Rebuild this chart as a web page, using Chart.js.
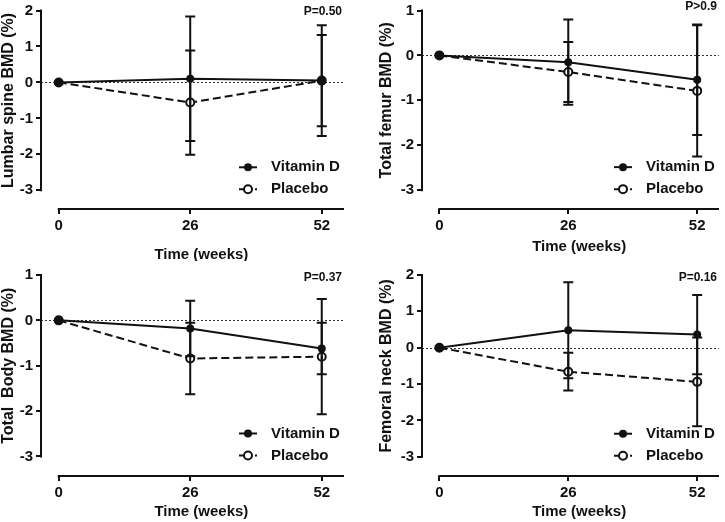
<!DOCTYPE html>
<html>
<head>
<meta charset="utf-8">
<script src="https://cdn.jsdelivr.net/npm/chart.js@4.4.1/dist/chart.umd.min.js"></script>
<style>
  html, body { margin: 0; padding: 0; background: #fff; }
  #wrap { position: relative; width: 725px; height: 522px; }
  canvas { position: absolute; }
</style>
</head>
<body>
<div id="wrap">
  <canvas id="c1" width="362" height="261" style="left:0;top:0"></canvas>
  <canvas id="c2" width="363" height="261" style="left:362px;top:0"></canvas>
  <canvas id="c3" width="362" height="261" style="left:0;top:261px"></canvas>
  <canvas id="c4" width="363" height="261" style="left:362px;top:261px"></canvas>
</div>
<script>
// data (mean % change and SD)
const weeks = [0, 26, 52];
const seriesNames = ['Vitamin D', 'Placebo'];

const lumbarVitD = [0, 0.10, 0.05];
const lumbarVitDSd = [0, 1.73, 1.54];
const lumbarPlac = [0, -0.56, 0.05];
const lumbarPlacSd = [0, 1.45, 1.27];

const femurVitD = [0, -0.15, -0.54];
const femurVitDSd = [0, 0.95, 1.23];
const femurPlac = [0, -0.37, -0.79];
const femurPlacSd = [0, 0.67, 1.46];

const bodyVitD = [0, -0.18, -0.62];
const bodyVitDSd = [0, 0.61, 0.57];
const bodyPlac = [0, -0.84, -0.80];
const bodyPlacSd = [0, 0.79, 1.27];

const neckVitD = [0, 0.48, 0.36];
const neckVitDSd = [0, 1.32, 1.09];
const neckPlac = [0, -0.66, -0.94];
const neckPlacSd = [0, 0.52, 1.22];

const ticksTall = [-3, -2, -1, 0, 1, 2];
const ticksShort = [-3, -2, -1, 0, 1];

const FONT = '"Liberation Sans", Arial, sans-serif';
const INK = '#111';

// prism style: offset axes, dotted zero line, error bars, legend, P value
const prismPlugin = {
  id: 'prism',
  beforeDatasetsDraw(chart) {
    const { ctx, chartArea: a, scales: { y } } = chart;
    const y0 = Math.round(y.getPixelForValue(0)) + 0.5;
    ctx.save();
    ctx.strokeStyle = '#333';
    ctx.lineWidth = 1;
    ctx.setLineDash([2, 2]);
    ctx.beginPath();
    ctx.moveTo(a.left, y0);
    ctx.lineTo(a.right, y0);
    ctx.stroke();
    ctx.restore();
  },
  afterDatasetsDraw(chart) {
    const { ctx, scales: { x, y } } = chart;
    ctx.save();
    ctx.strokeStyle = INK;
    ctx.lineWidth = 2;
    for (let i = chart.data.datasets.length - 1; i >= 0; i--) {
      const ds = chart.data.datasets[i];
      ds.data.forEach((p, j) => {
        const sd = ds.errorBars[j];
        if (!sd) return;
        const px = x.getPixelForValue(p.x);
        const hi = y.getPixelForValue(p.y + sd);
        const lo = y.getPixelForValue(p.y - sd);
        ctx.beginPath();
        ctx.moveTo(px, hi); ctx.lineTo(px, lo);
        ctx.moveTo(px - 5, hi); ctx.lineTo(px + 5, hi);
        ctx.moveTo(px - 5, lo); ctx.lineTo(px + 5, lo);
        ctx.stroke();
      });
    }
    ctx.restore();
  },
  afterDraw(chart, args, opts) {
    const { ctx, chartArea: a, scales: { x, y } } = chart;
    const yTicks = opts.yTicks;
    const yTop = y.getPixelForValue(yTicks[yTicks.length - 1]);
    const yBot = y.getPixelForValue(yTicks[0]);
    const x0 = x.getPixelForValue(weeks[0]);
    ctx.save();
    ctx.strokeStyle = INK;
    ctx.lineWidth = 2;
    ctx.beginPath();
    ctx.moveTo(a.left, yTop - 1); ctx.lineTo(a.left, yBot + 1);
    ctx.moveTo(x0 - 1, a.bottom); ctx.lineTo(a.right, a.bottom);
    ctx.stroke();

    ctx.fillStyle = INK;
    // axis titles
    ctx.font = 'bold 15px ' + FONT;
    ctx.textAlign = 'center';
    ctx.textBaseline = 'middle';
    ctx.fillText(opts.xTitle, (x0 + a.right) / 2, a.bottom + opts.xTitleDy);
    ctx.save();
    ctx.translate(a.left + opts.yTitleDx, (yTop + yBot) / 2);
    ctx.rotate(-Math.PI / 2);
    ctx.font = 'bold 16px ' + FONT;
    ctx.fillText(opts.yTitle, 0, 0);
    ctx.restore();

    // P value
    ctx.font = 'bold 12px ' + FONT;
    ctx.textAlign = 'right';
    ctx.fillText(opts.pText, a.right - 2, a.top + opts.pDy);

    // legend
    const rows = [yBot - 23, yBot - 1];
    chart.data.datasets.forEach((ds, i) => {
      const ly = rows[i];
      ctx.lineWidth = 2;
      ctx.setLineDash(ds.borderDash ? [5, 3] : []);
      ctx.beginPath();
      ctx.moveTo(a.right - 105, ly); ctx.lineTo(a.right - 87, ly);
      ctx.stroke();
      ctx.setLineDash([]);
      ctx.beginPath();
      ctx.arc(a.right - 96, ly, ds.pointRadius, 0, Math.PI * 2);
      ctx.fillStyle = ds.pointBackgroundColor;
      ctx.fill();
      if (ds.pointBorderWidth) {
        ctx.lineWidth = ds.pointBorderWidth;
        ctx.stroke();
      }
      ctx.fillStyle = INK;
      ctx.font = 'bold 15px ' + FONT;
      ctx.textAlign = 'left';
      ctx.fillText(ds.label, a.right - 73, ly);
    });
    ctx.restore();
  }
};

function toPoints(vals) {
  return weeks.map((w, i) => ({ x: w, y: vals[i] }));
}

function makeChart(id, p) {
  const cv = document.getElementById(id);
  const W = cv.width, H = cv.height;
  new Chart(cv, {
    type: 'line',
    data: {
      datasets: [{
        label: seriesNames[0],
        data: toPoints(p.vit),
        errorBars: p.vitSd,
        borderColor: INK,
        borderWidth: 2,
        pointRadius: 4,
        pointBackgroundColor: INK,
        pointBorderWidth: 0,
        tension: 0
      }, {
        label: seriesNames[1],
        data: toPoints(p.plac),
        errorBars: p.placSd,
        borderColor: INK,
        borderWidth: 2,
        borderDash: [8, 4],
        pointRadius: 4,
        pointBackgroundColor: '#fff',
        pointBorderColor: INK,
        pointBorderWidth: 2,
        tension: 0
      }]
    },
    options: {
      responsive: false,
      animation: false,
      events: [],
      layout: { padding: { left: 0, top: p.top, right: W - p.right, bottom: 0 } },
      plugins: {
        legend: { display: false },
        tooltip: { enabled: false },
        prism: {
          yTicks: p.yTicks,
          yTitle: p.yTitle,
          xTitle: 'Time (weeks)',
          pText: p.pText,
          pDy: p.pDy,
          yTitleDx: p.yTitleDx,
          xTitleDy: p.xTitleDy
        }
      },
      scales: {
        x: {
          type: 'linear',
          min: -3.5,
          max: 56.4,
          afterBuildTicks: s => { s.ticks = weeks.map(v => ({ value: v })); },
          afterFit: s => { s.height = H - p.bottom; },
          grid: { drawOnChartArea: false, drawTicks: true, tickLength: 5, lineWidth: 2, color: INK },
          border: { display: false },
          ticks: { color: INK, padding: 4, font: { family: FONT, size: 15, weight: 'bold', lineHeight: 1 } }
        },
        y: {
          min: p.yMin,
          max: p.yTicks[p.yTicks.length - 1],
          afterBuildTicks: s => { s.ticks = p.yTicks.map(v => ({ value: v })); },
          afterFit: s => { s.width = p.left; },
          grid: { drawOnChartArea: false, drawTicks: true, tickLength: 5, lineWidth: 2, color: INK },
          border: { display: false },
          ticks: { color: INK, padding: 3, font: { family: FONT, size: 15, weight: 'bold', lineHeight: 1 } }
        }
      }
    },
    plugins: [prismPlugin]
  });
}

makeChart('c1', {
  vit: lumbarVitD, vitSd: lumbarVitDSd, plac: lumbarPlac, placSd: lumbarPlacSd,
  yTicks: ticksTall, yMin: -3.52, yTitle: 'Lumbar spine BMD (%)', pText: 'P=0.50',
  left: 41, top: 8, right: 344, bottom: 209, yTitleDx: -32, xTitleDy: 46, pDy: 1
});
makeChart('c2', {
  vit: femurVitD, vitSd: femurVitDSd, plac: femurPlac, placSd: femurPlacSd,
  yTicks: ticksShort, yMin: -3.42, yTitle: 'Total femur BMD (%)', pText: 'P>0.9',
  left: 60, top: 8, right: 363, bottom: 209, yTitleDx: -35, xTitleDy: 38, pDy: -4
});
makeChart('c3', {
  vit: bodyVitD, vitSd: bodyVitDSd, plac: bodyPlac, placSd: bodyPlacSd,
  yTicks: ticksShort, yMin: -3.43, yTitle: 'Total  Body BMD (%)', pText: 'P=0.37',
  left: 41, top: 14, right: 344, bottom: 215, yTitleDx: -32, xTitleDy: 36, pDy: 3
});
makeChart('c4', {
  vit: neckVitD, vitSd: neckVitDSd, plac: neckPlac, placSd: neckPlacSd,
  yTicks: ticksTall, yMin: -3.53, yTitle: 'Femoral neck BMD (%)', pText: 'P=0.16',
  left: 60, top: 14, right: 363, bottom: 215, yTitleDx: -35, xTitleDy: 36, pDy: 3
});
</script>
</body>
</html>
